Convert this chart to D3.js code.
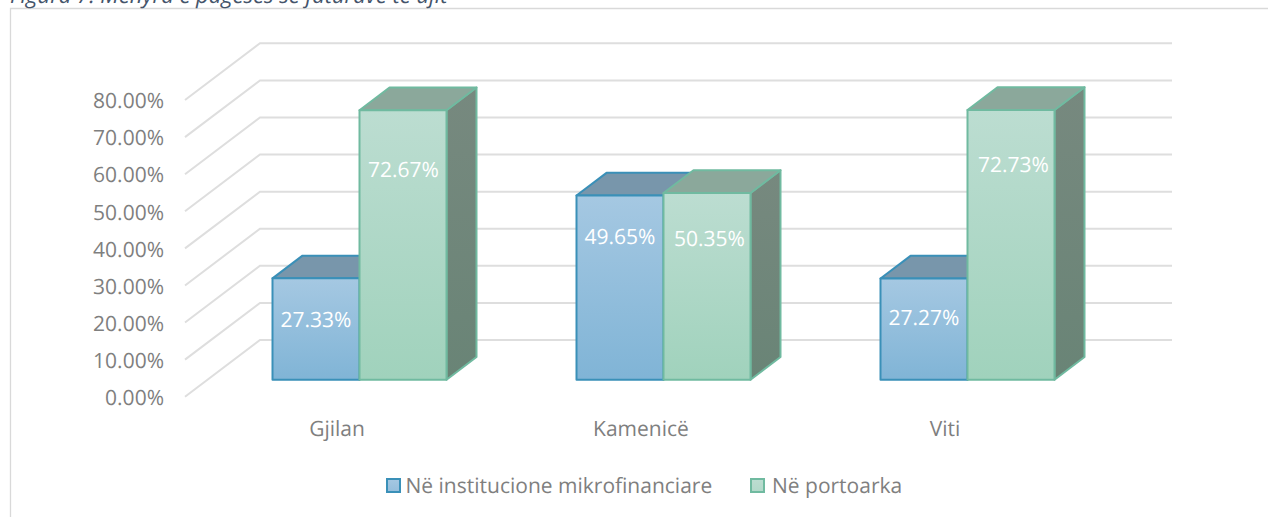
<!DOCTYPE html>
<html><head><meta charset="utf-8">
<script src="https://cdnjs.cloudflare.com/ajax/libs/d3/7.8.5/d3.min.js"></script>
<style>html,body{margin:0;padding:0;background:#fff;overflow:hidden}svg{display:block}text{font-family:"Open Sans",sans-serif;text-rendering:geometricPrecision}</style>
</head><body><svg id="c" width="1268" height="517"></svg>
<script>
const titleText = "Figura 7: Mënyra e pagesës së faturave të ujit";
const categories = ["Gjilan", "Kamenicë", "Viti"];
const seriesNames = ["Në institucione mikrofinanciare", "Në portoarka"];
const microValues = [27.33, 49.65, 27.27];
const boxValues = [72.67, 50.35, 72.73];
const yTicks = [0, 10, 20, 30, 40, 50, 60, 70, 80];

const svg = d3.select("#c");
const W = 1268, H = 517;
const y = d3.scaleLinear().domain([0, 80]).range([396.7, 100]);
const x0 = d3.scaleBand().domain(categories).range([185, 1097]);
const x1 = d3.scaleBand().domain([0, 1]).range([-87, 87]);
const depth = {dx: 75, dy: -56.7};
const barDepth = {start: 0.3, end: 0.7};
// hand-placed data labels: offset from the bar's top-centre, [series][category]
const labelDrop = [[48.5, 48.5, 46.5], [67, 53, 62]];
const labelShift = [[0, 0, 0], [0.5, 2.5, 2.5]];
const fmt = v => v.toFixed(2) + "%";
const FS = 21;

const defs = svg.append("defs");
function gradBox(id, a, b) {
  const g = defs.append("linearGradient").attr("id", id);
  g.attr("x1", 0).attr("x2", 0).attr("y1", 0).attr("y2", 1);
  g.append("stop").attr("offset", 0).attr("stop-color", a);
  g.append("stop").attr("offset", 1).attr("stop-color", b);
}
gradBox("frontA", "#a5c8e2", "#80b4d6");
gradBox("frontB", "#bcddd1", "#a0d2bc");
gradBox("sideB", "#77897f", "#698476");
gradBox("legA", "#a5c8e2", "#95bedc");
gradBox("legB", "#bcddd1", "#b2d8c9");

const styles = [
  {front: "url(#frontA)", top: "#7896ab", side: "#5d7f99", stroke: "#3a90b8"},
  {front: "url(#frontB)", top: "#8ba89b", side: "url(#sideB)", stroke: "#70baa0"}
];

svg.append("path").attr("d", `M10.5,${H}V8.5H${W}`).attr("fill", "none").attr("stroke", "#d9d9d9").attr("stroke-width", 1.3);

svg.append("text").attr("x", 10).attr("y", 3).attr("font-size", 22).attr("font-style", "italic")
  .attr("fill", "#44546a").text(titleText);

const grid = svg.append("g").attr("fill", "none").attr("stroke", "#dedede").attr("stroke-width", 2);
yTicks.forEach(t => {
  grid.append("path").attr("d", d3.line()([[185, y(t)], [185 + depth.dx, y(t) + depth.dy], [1172, y(t) + depth.dy]]));
});

svg.append("g").selectAll("text").data(yTicks).join("text")
  .attr("x", 164).attr("y", d => y(d) + 8.3).attr("text-anchor", "end")
  .attr("font-size", FS).attr("fill", "#7f7f7f").text(d => d.toFixed(2) + "%");

svg.append("g").selectAll("text").data(categories).join("text")
  .attr("x", d => x0(d) + x0.bandwidth() / 2).attr("y", 435.5).attr("text-anchor", "middle")
  .attr("font-size", FS).attr("fill", "#7f7f7f").text(d => d);

const series = [microValues, boxValues];
categories.forEach((cat, ci) => {
  const cx = x0(cat) + x0.bandwidth() / 2 + depth.dx * barDepth.start;
  series.forEach((vals, si) => {
    const v = vals[ci], st = styles[si];
    const dy0 = depth.dy * barDepth.start;
    const ddx = depth.dx * (barDepth.end - barDepth.start);
    const ddy = depth.dy * (barDepth.end - barDepth.start);
    const xa = cx + x1(si), xb = xa + x1.bandwidth();
    const yb = y(0) + dy0, yt = y(v) + dy0;
    const g = svg.append("g").attr("stroke", st.stroke).attr("stroke-width", 2).attr("stroke-linejoin", "round");
    g.append("path").attr("d", d3.line()([[xb, yb], [xb + ddx, yb + ddy], [xb + ddx, yt + ddy], [xb, yt]]) + "Z").attr("fill", st.side);
    g.append("path").attr("d", d3.line()([[xa, yt], [xa + ddx, yt + ddy], [xb + ddx, yt + ddy], [xb, yt]]) + "Z").attr("fill", st.top);
    g.append("rect").attr("x", xa).attr("y", yt).attr("width", xb - xa).attr("height", yb - yt).attr("fill", st.front);
    svg.append("text").attr("x", (xa + xb) / 2 + labelShift[si][ci]).attr("y", yt + labelDrop[si][ci])
      .attr("text-anchor", "middle")
      .attr("font-size", FS).attr("fill", "#ffffff").text(fmt(v));
  });
});

const legendX = [387, 751];
seriesNames.forEach((n, i) => {
  svg.append("rect").attr("x", legendX[i]).attr("y", 479).attr("width", 13).attr("height", 13)
    .attr("fill", i ? "url(#legB)" : "url(#legA)").attr("stroke", styles[i].stroke).attr("stroke-width", 2);
  svg.append("text").attr("x", legendX[i] + (i ? 21 : 18.5)).attr("y", 493).attr("font-size", FS).attr("fill", "#7f7f7f").text(n);
});
</script></body></html>
